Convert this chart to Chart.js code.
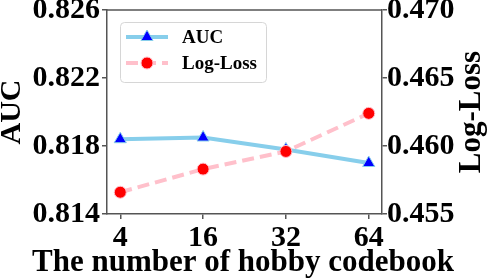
<!DOCTYPE html>
<html lang="en">
<head>
  <meta charset="UTF-8" />
  <title>Hobby codebook size</title>
  <script src="https://cdn.jsdelivr.net/npm/chart.js"></script>
  <style>
    body { margin: 0; background: #fff; }
    #wrap { width: 488px; height: 279px; }
  </style>
</head>
<body>
  <div id="wrap"><canvas id="chart"></canvas></div>

  <script>
    const codebookSizes = ["4", "16", "32", "64"];
    const aucValues = [0.8184, 0.8185, 0.8178, 0.8170];
    const logLossValues = [0.4566, 0.4583, 0.4596, 0.4624];
    const aucTicks = [0.814, 0.818, 0.822, 0.826];
    const lossTicks = [0.455, 0.460, 0.465, 0.470];

    const FONT = "'Liberation Serif', 'Times New Roman', serif";
    const SPINE = "#555";
    const AUC_LINE = "#87ceeb", AUC_MARK = "#0000ff";
    const LOSS_LINE = "#ffc0cb", LOSS_MARK = "#ff0000";

    const toPoints = vals => vals.map((v, i) => ({ x: i, y: v }));
    const noPad = s => { s.paddingTop = 0; s.paddingBottom = 0; s.paddingLeft = 0; s.paddingRight = 0; };

    // top spine, axis titles the library would squash or rotate wrongly, legend
    const decorations = {
      id: "decorations",
      afterDraw(chart) {
        const ctx = chart.ctx;
        const a = chart.chartArea;
        ctx.save();
        ctx.strokeStyle = SPINE;
        ctx.lineWidth = 1.5;
        ctx.beginPath();
        ctx.moveTo(a.left, a.top);
        ctx.lineTo(a.right, a.top);
        ctx.stroke();

        ctx.fillStyle = "#000";
        ctx.font = "bold 31px " + FONT;
        ctx.textAlign = "center";
        ctx.textBaseline = "alphabetic";
        ctx.fillText("The number of hobby codebook", 243, 271);

        // right axis title reads bottom to top
        ctx.textBaseline = "middle";
        ctx.translate(472, (a.top + a.bottom) / 2);
        ctx.rotate(-Math.PI / 2);
        ctx.fillText("Log-Loss", 0, 0);
        ctx.restore();

        // legend
        ctx.save();
        ctx.fillStyle = "rgba(255,255,255,0.8)";
        ctx.strokeStyle = "#d6d6d6";
        ctx.lineWidth = 1;
        ctx.beginPath();
        ctx.roundRect(120.5, 22.5, 146, 60, 4);
        ctx.fill();
        ctx.stroke();

        const entries = [
          { label: "AUC", y: 37, line: AUC_LINE, mark: AUC_MARK, style: "triangle", r: 7, dash: [] },
          { label: "Log-Loss", y: 63, line: LOSS_LINE, mark: LOSS_MARK, style: "circle", r: 6, dash: [12, 6] }
        ];
        entries.forEach(e => {
          ctx.strokeStyle = e.line;
          ctx.lineWidth = 4;
          ctx.setLineDash(e.dash);
          ctx.beginPath();
          ctx.moveTo(126, e.y);
          ctx.lineTo(168, e.y);
          ctx.stroke();
          ctx.setLineDash([]);
          ctx.fillStyle = e.mark;
          ctx.strokeStyle = e.line;
          ctx.lineWidth = 1;
          Chart.helpers.drawPoint(ctx, { pointStyle: e.style, radius: e.r, borderWidth: 1, rotation: 0 }, 147, e.y);
          ctx.fillStyle = "#000";
          ctx.font = "bold 19px " + FONT;
          ctx.textAlign = "left";
          ctx.textBaseline = "middle";
          ctx.fillText(e.label, 182, e.y + 1);
        });
        ctx.restore();
      }
    };

    new Chart(document.getElementById("chart"), {
      type: "line",
      data: {
        datasets: [
          {
            label: "Log-Loss",
            data: toPoints(logLossValues),
            yAxisID: "y1",
            order: 0,
            borderColor: LOSS_LINE,
            borderWidth: 4,
            borderDash: [12, 6],
            pointStyle: "circle",
            pointRadius: 6,
            pointBackgroundColor: LOSS_MARK,
            pointBorderColor: LOSS_LINE,
            pointBorderWidth: 1,
            tension: 0
          },
          {
            label: "AUC",
            data: toPoints(aucValues),
            yAxisID: "y",
            order: 1,
            borderColor: AUC_LINE,
            borderWidth: 4,
            pointStyle: "triangle",
            pointRadius: 7,
            pointBackgroundColor: AUC_MARK,
            pointBorderColor: AUC_LINE,
            pointBorderWidth: 1,
            tension: 0
          }
        ]
      },
      options: {
        responsive: true,
        maintainAspectRatio: false,
        animation: false,
        layout: { padding: { top: 10, left: 0, right: 0, bottom: 0 } },
        plugins: { legend: { display: false }, tooltip: { enabled: false } },
        scales: {
          x: {
            type: "linear",
            min: -0.16,
            max: 3.16,
            afterBuildTicks: s => { s.ticks = codebookSizes.map((_, i) => ({ value: i })); },
            afterFit: s => { s.height = 65; noPad(s); },
            grid: { drawOnChartArea: false, tickLength: 5, color: SPINE, lineWidth: 1.5 },
            border: { color: SPINE, width: 1.5 },
            ticks: {
              padding: 1,
              color: "#000",
              font: { family: FONT, size: 30, weight: "bold" },
              maxRotation: 0,
              callback: v => codebookSizes[v]
            }
          },
          y: {
            position: "left",
            min: aucTicks[0],
            max: aucTicks[aucTicks.length - 1],
            afterBuildTicks: s => { s.ticks = aucTicks.map(v => ({ value: v })); },
            afterFit: s => { s.width = 107; noPad(s); },
            grid: { drawOnChartArea: false, tickLength: 5, color: SPINE, lineWidth: 1.5 },
            border: { color: SPINE, width: 1.5 },
            ticks: {
              padding: 2,
              color: "#000",
              font: { family: FONT, size: 30, weight: "bold" },
              callback: v => v.toFixed(3)
            },
            title: {
              display: true,
              text: "AUC",
              color: "#000",
              font: { family: FONT, size: 30, weight: "bold", lineHeight: 0.8 },
              padding: { top: 0, bottom: 0 }
            }
          },
          y1: {
            position: "right",
            min: lossTicks[0],
            max: lossTicks[lossTicks.length - 1],
            afterBuildTicks: s => { s.ticks = lossTicks.map(v => ({ value: v })); },
            afterFit: s => { s.width = 106; noPad(s); },
            grid: { drawOnChartArea: false, tickLength: 5, color: SPINE, lineWidth: 1.5 },
            border: { color: SPINE, width: 1.5 },
            ticks: {
              padding: 0,
              color: "#000",
              font: { family: FONT, size: 30, weight: "bold" },
              callback: v => v.toFixed(3)
            }
          }
        }
      },
      plugins: [decorations]
    });
  </script>
</body>
</html>
